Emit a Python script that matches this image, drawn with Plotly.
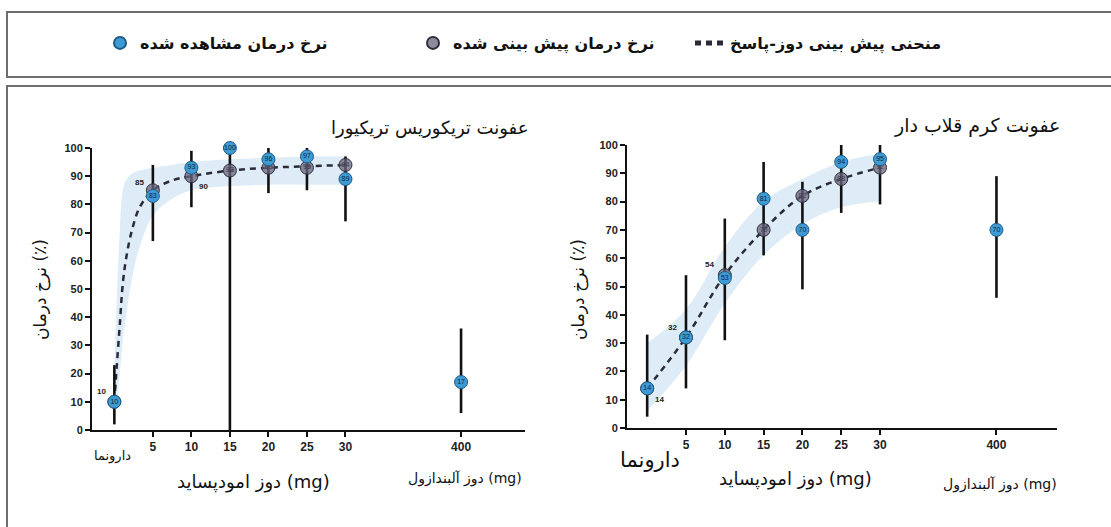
import plotly.graph_objects as go

W, H = 1111, 527


def fx(p):
    return p / W


def fy(p):
    return 1 - p / H


# ---------------- data ----------------
placebo_label = "دارونما"
doses = [0, 5, 10, 15, 20, 25, 30]
dose_ticks = [5, 10, 15, 20, 25, 30]
alb_tick_label = "400"
ALB_POS = 45  # where the 400 mg albendazole group sits on the axis

# Trichuris trichiura
tri_obs = [10, 83, 93, 100, 96, 97, 89]
tri_obs_lo = [2, 67, 79, 0, 84, 85, 74]
tri_obs_hi = [23, 94, 99, 100, 100, 100, 97]
tri_pred = [10, 85, 90, 92, 93, 93, 94]
tri_alb_obs = [17]
tri_alb_lo = [6]
tri_alb_hi = [36]
tri_curve_x = [0, 0.3, 0.7, 1.1, 1.6, 2.3, 3.3, 5, 7.5, 10, 15, 20, 25, 30]
tri_curve_y = [10, 22, 37, 52, 62, 71, 79, 85, 88.5, 90, 92, 93, 93.5, 94]
tri_band_hi = [22, 45, 70, 85, 89, 91, 92, 93, 94, 95, 96, 96.5, 97, 97]
tri_band_lo = [4, 10, 20, 32, 42, 54, 65, 76, 82, 85, 86.5, 87, 87, 87]

# Hookworm
hook_obs = [14, 32, 53, 81, 70, 94, 95]
hook_obs_lo = [4, 14, 31, 61, 49, 76, 79]
hook_obs_hi = [33, 54, 74, 94, 87, 100, 100]
hook_pred = [14, 32, 54, 70, 82, 88, 92]
hook_alb_obs = [70]
hook_alb_lo = [46]
hook_alb_hi = [89]
hook_band_hi = [30, 42, 64, 80, 88, 94, 97]
hook_band_lo = [6, 22, 44, 61, 72, 78, 80]

# predicted values written beside (not inside) their markers (index into doses)
tri_side_idx = [0, 1, 2]
hook_side_idx = [0, 1, 2]

# texts
legend_obs = "نرخ درمان مشاهده شده"
legend_pred = "نرخ درمان پیش بینی شده"
legend_curve = "منحنی پیش بینی دوز-پاسخ"
title_tri = "عفونت تریکوریس تریکیورا"
title_hook = "عفونت کرم قلاب دار"
ytitle = "نرخ درمان (٪)"
xtitle_emo = "دوز امودپساید (mg)"
xtitle_alb = "دوز آلبندازول (mg)"

# ---------------- styles ----------------
FA = "DejaVu Sans"
NUM = "Liberation Sans"
OBS_COLOR = "#3d9ad3"
OBS_EDGE = "#1f5a85"
PRED_COLOR = "rgba(105,100,125,0.75)"
PRED_EDGE = "#2e2e3c"
BAND = "rgba(160,200,232,0.35)"
CURVE = "#2b2b38"
tri_side_shift = [(-13, 10), (-13, 8), (12, -10)]
hook_side_shift = [(12, -11), (-13, 10), (-15, 11)]

fig = go.Figure()
side_annotations = []


def add_panel(n, cx, cy, blo, bhi, pred, obs, lo, hi, alb, alb_lo, alb_hi,
              side_idx, side_shift, first):
    xref = "x" if n == 1 else f"x{n}"
    yref = "y" if n == 1 else f"y{n}"
    # confidence band
    fig.add_trace(go.Scatter(x=cx, y=blo, mode="lines", line=dict(width=0, shape="spline"),
                             showlegend=False, hoverinfo="skip", xaxis=xref, yaxis=yref))
    fig.add_trace(go.Scatter(x=cx, y=bhi, mode="lines", line=dict(width=0, shape="spline"),
                             fill="tonexty", fillcolor=BAND, showlegend=False,
                             hoverinfo="skip", xaxis=xref, yaxis=yref))
    # dose-response curve
    fig.add_trace(go.Scatter(x=cx, y=cy, mode="lines",
                             line=dict(color=CURVE, width=2.5, dash="6px,5px", shape="spline"),
                             name=legend_curve, showlegend=first, legend="legend3",
                             xaxis=xref, yaxis=yref))
    # error bars of observed rates
    xs = doses + [ALB_POS]
    ys = obs + alb
    fig.add_trace(go.Scatter(
        x=xs, y=ys, mode="markers",
        marker=dict(size=0.1, color="rgba(0,0,0,0)"),
        error_y=dict(type="data", symmetric=False,
                     array=[h - o for h, o in zip(hi + alb_hi, ys)],
                     arrayminus=[o - l for l, o in zip(lo + alb_lo, ys)],
                     color="#111111", thickness=2.6, width=0),
        showlegend=False, hoverinfo="skip", cliponaxis=False, xaxis=xref, yaxis=yref))
    # predicted
    pred_text = ["" if i in side_idx else str(v) for i, v in enumerate(pred)]
    fig.add_trace(go.Scatter(
        x=doses, y=pred, mode="markers+text", text=pred_text,
        textposition="middle center", textfont=dict(size=7, color="#3a3a48", family=NUM),
        marker=dict(size=13, color=PRED_COLOR, line=dict(color=PRED_EDGE, width=1)),
        name=legend_pred, showlegend=first, legend="legend2", cliponaxis=False,
        xaxis=xref, yaxis=yref))
    # observed
    fig.add_trace(go.Scatter(
        x=xs, y=ys, mode="markers+text",
        text=[str(v) for v in ys], textposition="middle center",
        textfont=dict(size=7, color="#10263a", family=NUM),
        marker=dict(size=13, color=OBS_COLOR, line=dict(color=OBS_EDGE, width=1)),
        name=legend_obs, showlegend=first, legend="legend", cliponaxis=False,
        xaxis=xref, yaxis=yref))
    for i, (dx, dy) in zip(side_idx, side_shift):
        side_annotations.append(dict(
            text=str(pred[i]), x=doses[i], y=pred[i], xref=xref, yref=yref,
            xshift=dx, yshift=dy, showarrow=False,
            font=dict(size=8, color="#222", family=NUM, weight="bold")))


add_panel(1, tri_curve_x, tri_curve_y, tri_band_lo, tri_band_hi, tri_pred, tri_obs,
          tri_obs_lo, tri_obs_hi, tri_alb_obs, tri_alb_lo, tri_alb_hi,
          tri_side_idx, tri_side_shift, True)
add_panel(2, doses, hook_pred, hook_band_lo, hook_band_hi, hook_pred, hook_obs,
          hook_obs_lo, hook_obs_hi, hook_alb_obs, hook_alb_lo, hook_alb_hi,
          hook_side_idx, hook_side_shift, False)

tickfont = dict(family=NUM, size=12, color="#222", weight="bold")
xcommon = dict(tickvals=dose_ticks + [ALB_POS],
               ticktext=[str(d) for d in dose_ticks] + [alb_tick_label],
               ticks="outside", ticklen=5, tickwidth=1.5, tickcolor="#111",
               showline=True, linewidth=2, linecolor="#111", showgrid=False, zeroline=False,
               tickfont=tickfont, fixedrange=True)
ycommon = dict(range=[0, 100], dtick=10, ticks="outside", ticklen=5, tickwidth=1.5,
               tickcolor="#111", showline=True, linewidth=2, linecolor="#111",
               showgrid=False, zeroline=False,
               tickfont=dict(family=NUM, size=11, color="#222", weight="bold"),
               fixedrange=True)

legfont = dict(family=FA, size=16, color="#111", weight="bold")
leg_common = dict(orientation="h", yanchor="middle", y=fy(43), xanchor="left",
                  bgcolor="rgba(0,0,0,0)", font=legfont, itemsizing="constant")

fig.update_layout(
    width=W, height=H,
    margin=dict(l=0, r=0, t=0, b=0, autoexpand=False),
    paper_bgcolor="white", plot_bgcolor="white",
    xaxis=dict(domain=[fx(92), fx(525)], range=[-2.9, 53.3], anchor="y", **xcommon),
    yaxis=dict(domain=[fy(430), fy(148)], anchor="x", **ycommon),
    xaxis2=dict(domain=[fx(627), fx(1057)], range=[-2.6, 52.8], anchor="y2", **xcommon),
    yaxis2=dict(domain=[fy(428), fy(145)], anchor="x2", **ycommon),
    legend=dict(x=fx(100), **leg_common),
    legend2=dict(x=fx(413), **leg_common),
    legend3=dict(x=fx(690), **leg_common),
    shapes=[
        dict(type="rect", xref="paper", yref="paper", x0=fx(7), x1=1.02, y0=fy(77), y1=fy(12),
             line=dict(color="#6e6e6e", width=2), fillcolor="rgba(0,0,0,0)"),
        dict(type="rect", xref="paper", yref="paper", x0=fx(7), x1=1.02, y0=-0.05, y1=fy(86),
             line=dict(color="#6e6e6e", width=2), fillcolor="rgba(0,0,0,0)"),
    ],
    showlegend=True,
)

ann = []
ann.append(dict(text=title_tri, x=fx(530), y=fy(128), xanchor="right", yanchor="middle",
                font=dict(family=FA, size=18, color="#111")))
ann.append(dict(text=title_hook, x=fx(1062), y=fy(126), xanchor="right", yanchor="middle",
                font=dict(family=FA, size=19, color="#111")))
for xp in (40, 578):
    ann.append(dict(text=ytitle, x=fx(xp), y=fy(290), textangle=-90, xanchor="center",
                    yanchor="middle", font=dict(family=FA, size=17, color="#111")))
ann.append(dict(text=placebo_label, x=fx(112), y=fy(456), xanchor="center", yanchor="middle",
                font=dict(family=FA, size=13, color="#111")))
ann.append(dict(text=placebo_label, x=fx(650), y=fy(460), xanchor="center", yanchor="middle",
                font=dict(family=FA, size=21, color="#111")))
ann.append(dict(text=xtitle_emo, x=fx(253), y=fy(482), xanchor="center", yanchor="middle",
                font=dict(family=FA, size=18, color="#111")))
ann.append(dict(text=xtitle_emo, x=fx(795), y=fy(479), xanchor="center", yanchor="middle",
                font=dict(family=FA, size=18, color="#111")))
ann.append(dict(text=xtitle_alb, x=fx(465), y=fy(478), xanchor="center", yanchor="middle",
                font=dict(family=FA, size=14, color="#111")))
ann.append(dict(text=xtitle_alb, x=fx(1000), y=fy(484), xanchor="center", yanchor="middle",
                font=dict(family=FA, size=14, color="#111")))
for a in ann:
    a.update(xref="paper", yref="paper", showarrow=False)
fig.update_layout(annotations=ann + side_annotations)

fig.write_html("out.html", config={"displayModeBar": False},
               post_script="document.body.style.margin='0';")
